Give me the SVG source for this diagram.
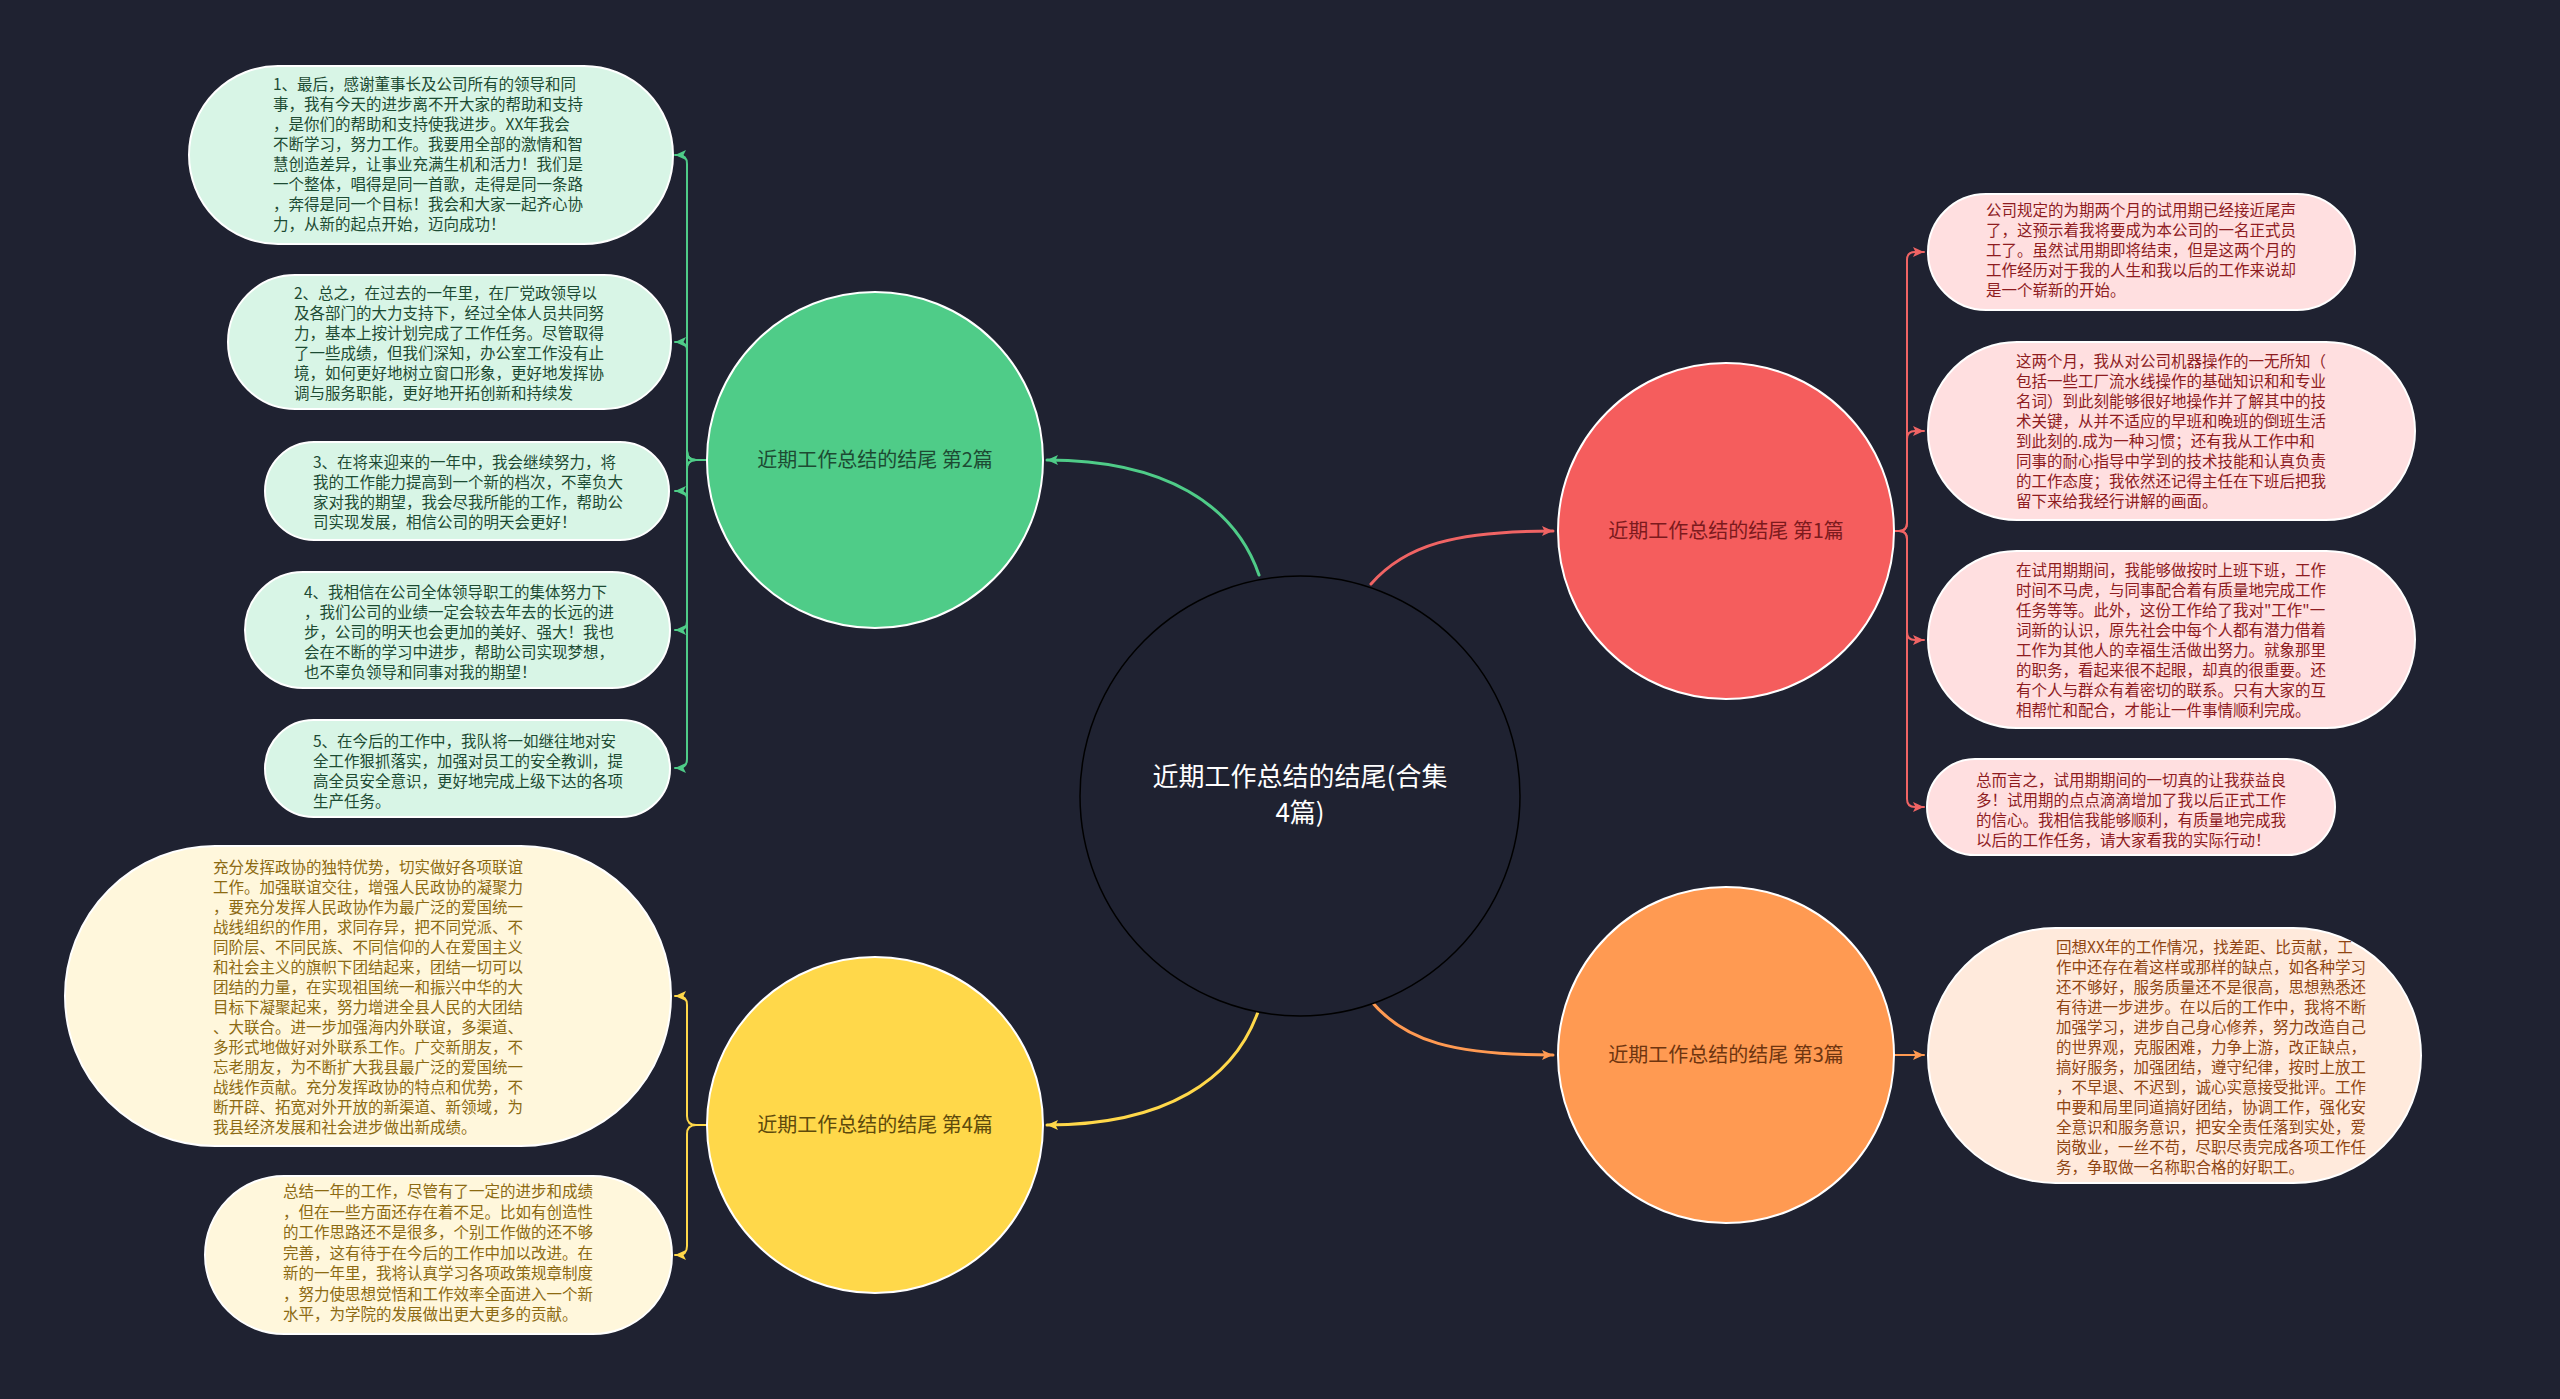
<svg xmlns="http://www.w3.org/2000/svg" width="2560" height="1399" viewBox="0 0 2560 1399">
<defs>
<style>
.bg{fill:#1f2231}
.leaf{stroke:#ffffff;stroke-width:2}
.lt{font-family:"Noto Sans CJK SC","Noto Sans",sans-serif;font-size:15.5px}
.g .leaf{fill:#d8f5e6}
.g .lt{fill:#1d4b33}
.r .leaf{fill:#ffdfe0}
.r .lt{fill:#8e1c1f}
.o .leaf{fill:#ffeadc}
.o .lt{fill:#8f4512}
.y .leaf{fill:#fff7dc}
.y .lt{fill:#8c6a12}
.bn{stroke:#ffffff;stroke-width:2}
.bt{font-family:"Noto Sans CJK SC","Noto Sans",sans-serif;font-size:20px;text-anchor:middle}
.c{fill:none;stroke-linecap:round}
.cg{stroke:#4fcc88}
.cr{stroke:#f06464}
.co{stroke:#ff9a52}
.cy{stroke:#ffd84a}
.main{stroke-width:3}
.sub{stroke-width:2}
</style>
<marker id="ag" markerUnits="userSpaceOnUse" markerWidth="14" markerHeight="14" refX="11" refY="6" orient="auto"><path d="M0,1 L11,6 L0,11 L2.5,6 z" fill="#4fcc88"/></marker>
<marker id="ar" markerUnits="userSpaceOnUse" markerWidth="14" markerHeight="14" refX="11" refY="6" orient="auto"><path d="M0,1 L11,6 L0,11 L2.5,6 z" fill="#f06464"/></marker>
<marker id="ao" markerUnits="userSpaceOnUse" markerWidth="14" markerHeight="14" refX="11" refY="6" orient="auto"><path d="M0,1 L11,6 L0,11 L2.5,6 z" fill="#ff9a52"/></marker>
<marker id="ay" markerUnits="userSpaceOnUse" markerWidth="14" markerHeight="14" refX="11" refY="6" orient="auto"><path d="M0,1 L11,6 L0,11 L2.5,6 z" fill="#ffd84a"/></marker>
</defs>
<rect class="bg" x="0" y="0" width="2560" height="1399"/>

<g id="connectors">
<path class="c cg main" d="M1259,575 C1235,505 1165,460 1047,460" marker-end="url(#ag)"/>
<path class="c cr main" d="M1371,584 C1405,545 1455,531 1553,531" marker-end="url(#ar)"/>
<path class="c co main" d="M1371,1001 C1405,1042 1455,1055 1553,1055" marker-end="url(#ao)"/>
<path class="c cy main" d="M1259,1009 C1235,1080 1165,1125 1047,1125" marker-end="url(#ay)"/>

<path class="c cg sub" d="M707,460 H696 Q687,460 687,451 V164 Q687,155 678,155 H675" marker-end="url(#ag)"/>
<path class="c cg sub" d="M707,460 H696 Q687,460 687,451 V351 Q687,342 678,342 H675" marker-end="url(#ag)"/>
<path class="c cg sub" d="M707,460 H696 Q687,460 687,451 V500 Q687,491 678,491 H675" marker-end="url(#ag)"/>
<path class="c cg sub" d="M707,460 H696 Q687,460 687,469 V621 Q687,630 678,630 H675" marker-end="url(#ag)"/>
<path class="c cg sub" d="M707,460 H696 Q687,460 687,469 V759 Q687,768 678,768 H675" marker-end="url(#ag)"/>

<path class="c cy sub" d="M707,1125 H696 Q687,1125 687,1116 V1005 Q687,996 678,996 H675" marker-end="url(#ay)"/>
<path class="c cy sub" d="M707,1125 H696 Q687,1125 687,1134 V1246 Q687,1255 678,1255 H675" marker-end="url(#ay)"/>

<path class="c cr sub" d="M1894,531 H1899 Q1907,531 1907,523 V260 Q1907,252 1915,252 H1924" marker-end="url(#ar)"/>
<path class="c cr sub" d="M1894,531 H1899 Q1907,531 1907,523 V439 Q1907,431 1915,431 H1924" marker-end="url(#ar)"/>
<path class="c cr sub" d="M1894,531 H1899 Q1907,531 1907,539 V632 Q1907,640 1915,640 H1924" marker-end="url(#ar)"/>
<path class="c cr sub" d="M1894,531 H1899 Q1907,531 1907,539 V799 Q1907,807 1915,807 H1924" marker-end="url(#ar)"/>

<path class="c co sub" d="M1894,1055 H1924" marker-end="url(#ao)"/>
</g>

<g id="center">
<circle cx="1300" cy="796" r="220" fill="#1f2231" stroke="#000000" stroke-width="1.5"/>
<text font-family="'Noto Sans CJK SC','Noto Sans',sans-serif" font-size="26" fill="#ffffff" text-anchor="middle"><tspan x="1300" y="786">近期工作总结的结尾(合集</tspan><tspan x="1300" y="822">4篇)</tspan></text>
</g>

<g id="branch2" class="g">
<circle class="bn" cx="875" cy="460" r="168" fill="#4fcc88"/>
<text class="bt" x="875" y="467" fill="#1d4b33">近期工作总结的结尾 第2篇</text>
</g>
<g id="branch1" class="r">
<circle class="bn" cx="1726" cy="531" r="168" fill="#f55d5d"/>
<text class="bt" x="1726" y="538" fill="#7c1a1d">近期工作总结的结尾 第1篇</text>
</g>
<g id="branch3" class="o">
<circle class="bn" cx="1726" cy="1055" r="168" fill="#ff9a52"/>
<text class="bt" x="1726" y="1062" fill="#6e3510">近期工作总结的结尾 第3篇</text>
</g>
<g id="branch4" class="y">
<circle class="bn" cx="875" cy="1125" r="168" fill="#ffd84a"/>
<text class="bt" x="875" y="1132" fill="#5e4a0c">近期工作总结的结尾 第4篇</text>
</g>

<g id="leaf2-1" class="g">
<rect class="leaf" x="189" y="66" width="484" height="178" rx="89"/>
<text class="lt"><tspan x="273" y="90">1、最后，感谢董事长及公司所有的领导和同</tspan><tspan x="273" dy="20">事，我有今天的进步离不开大家的帮助和支持</tspan><tspan x="273" dy="20">，是你们的帮助和支持使我进步。XX年我会</tspan><tspan x="273" dy="20">不断学习，努力工作。我要用全部的激情和智</tspan><tspan x="273" dy="20">慧创造差异，让事业充满生机和活力！我们是</tspan><tspan x="273" dy="20">一个整体，唱得是同一首歌，走得是同一条路</tspan><tspan x="273" dy="20">，奔得是同一个目标！我会和大家一起齐心协</tspan><tspan x="273" dy="20">力，从新的起点开始，迈向成功！</tspan></text>
</g>
<g id="leaf2-2" class="g">
<rect class="leaf" x="228" y="275" width="443" height="134" rx="67"/>
<text class="lt"><tspan x="294" y="299">2、总之，在过去的一年里，在厂党政领导以</tspan><tspan x="294" dy="20">及各部门的大力支持下，经过全体人员共同努</tspan><tspan x="294" dy="20">力，基本上按计划完成了工作任务。尽管取得</tspan><tspan x="294" dy="20">了一些成绩，但我们深知，办公室工作没有止</tspan><tspan x="294" dy="20">境，如何更好地树立窗口形象，更好地发挥协</tspan><tspan x="294" dy="20">调与服务职能，更好地开拓创新和持续发</tspan></text>
</g>
<g id="leaf2-3" class="g">
<rect class="leaf" x="265" y="442" width="404" height="98" rx="49"/>
<text class="lt"><tspan x="313" y="467.5">3、在将来迎来的一年中，我会继续努力，将</tspan><tspan x="313" dy="20">我的工作能力提高到一个新的档次，不辜负大</tspan><tspan x="313" dy="20">家对我的期望，我会尽我所能的工作，帮助公</tspan><tspan x="313" dy="20">司实现发展，相信公司的明天会更好！</tspan></text>
</g>
<g id="leaf2-4" class="g">
<rect class="leaf" x="245" y="572" width="425" height="116" rx="58"/>
<text class="lt"><tspan x="304" y="597.5">4、我相信在公司全体领导职工的集体努力下</tspan><tspan x="304" dy="20">，我们公司的业绩一定会较去年去的长远的进</tspan><tspan x="304" dy="20">步，公司的明天也会更加的美好、强大！我也</tspan><tspan x="304" dy="20">会在不断的学习中进步，帮助公司实现梦想，</tspan><tspan x="304" dy="20">也不辜负领导和同事对我的期望！</tspan></text>
</g>
<g id="leaf2-5" class="g">
<rect class="leaf" x="265" y="720" width="405" height="97" rx="48.5"/>
<text class="lt"><tspan x="313" y="746.5">5、在今后的工作中，我队将一如继往地对安</tspan><tspan x="313" dy="20">全工作狠抓落实，加强对员工的安全教训，提</tspan><tspan x="313" dy="20">高全员安全意识，更好地完成上级下达的各项</tspan><tspan x="313" dy="20">生产任务。</tspan></text>
</g>

<g id="leaf4-1" class="y">
<rect class="leaf" x="65" y="846" width="606" height="300" rx="150"/>
<text class="lt"><tspan x="213" y="872.5">充分发挥政协的独特优势，切实做好各项联谊</tspan><tspan x="213" dy="20">工作。加强联谊交往，增强人民政协的凝聚力</tspan><tspan x="213" dy="20">，要充分发挥人民政协作为最广泛的爱国统一</tspan><tspan x="213" dy="20">战线组织的作用，求同存异，把不同党派、不</tspan><tspan x="213" dy="20">同阶层、不同民族、不同信仰的人在爱国主义</tspan><tspan x="213" dy="20">和社会主义的旗帜下团结起来，团结一切可以</tspan><tspan x="213" dy="20">团结的力量，在实现祖国统一和振兴中华的大</tspan><tspan x="213" dy="20">目标下凝聚起来，努力增进全县人民的大团结</tspan><tspan x="213" dy="20">、大联合。进一步加强海内外联谊，多渠道、</tspan><tspan x="213" dy="20">多形式地做好对外联系工作。广交新朋友，不</tspan><tspan x="213" dy="20">忘老朋友，为不断扩大我县最广泛的爱国统一</tspan><tspan x="213" dy="20">战线作贡献。充分发挥政协的特点和优势，不</tspan><tspan x="213" dy="20">断开辟、拓宽对外开放的新渠道、新领域，为</tspan><tspan x="213" dy="20">我县经济发展和社会进步做出新成绩。</tspan></text>
</g>
<g id="leaf4-2" class="y">
<rect class="leaf" x="205" y="1176" width="467" height="158" rx="79"/>
<text class="lt"><tspan x="283" y="1197">总结一年的工作，尽管有了一定的进步和成绩</tspan><tspan x="283" dy="20.5">，但在一些方面还存在着不足。比如有创造性</tspan><tspan x="283" dy="20.5">的工作思路还不是很多，个别工作做的还不够</tspan><tspan x="283" dy="20.5">完善，这有待于在今后的工作中加以改进。在</tspan><tspan x="283" dy="20.5">新的一年里，我将认真学习各项政策规章制度</tspan><tspan x="283" dy="20.5">，努力使思想觉悟和工作效率全面进入一个新</tspan><tspan x="283" dy="20.5">水平，为学院的发展做出更大更多的贡献。</tspan></text>
</g>

<g id="leaf1-1" class="r">
<rect class="leaf" x="1928" y="194" width="427" height="116" rx="58"/>
<text class="lt"><tspan x="1986" y="216">公司规定的为期两个月的试用期已经接近尾声</tspan><tspan x="1986" dy="20">了，这预示着我将要成为本公司的一名正式员</tspan><tspan x="1986" dy="20">工了。虽然试用期即将结束，但是这两个月的</tspan><tspan x="1986" dy="20">工作经历对于我的人生和我以后的工作来说却</tspan><tspan x="1986" dy="20">是一个崭新的开始。</tspan></text>
</g>
<g id="leaf1-2" class="r">
<rect class="leaf" x="1928" y="342" width="487" height="178" rx="89"/>
<text class="lt"><tspan x="2016" y="367">这两个月，我从对公司机器操作的一无所知（</tspan><tspan x="2016" dy="20">包括一些工厂流水线操作的基础知识和和专业</tspan><tspan x="2016" dy="20">名词）到此刻能够很好地操作并了解其中的技</tspan><tspan x="2016" dy="20">术关键，从并不适应的早班和晚班的倒班生活</tspan><tspan x="2016" dy="20">到此刻的.成为一种习惯；还有我从工作中和</tspan><tspan x="2016" dy="20">同事的耐心指导中学到的技术技能和认真负责</tspan><tspan x="2016" dy="20">的工作态度；我依然还记得主任在下班后把我</tspan><tspan x="2016" dy="20">留下来给我经行讲解的画面。</tspan></text>
</g>
<g id="leaf1-3" class="r">
<rect class="leaf" x="1928" y="551" width="487" height="177" rx="88.5"/>
<text class="lt"><tspan x="2016" y="576">在试用期期间，我能够做按时上班下班，工作</tspan><tspan x="2016" dy="20">时间不马虎，与同事配合着有质量地完成工作</tspan><tspan x="2016" dy="20">任务等等。此外，这份工作给了我对"工作"一</tspan><tspan x="2016" dy="20">词新的认识，原先社会中每个人都有潜力借着</tspan><tspan x="2016" dy="20">工作为其他人的幸福生活做出努力。就象那里</tspan><tspan x="2016" dy="20">的职务，看起来很不起眼，却真的很重要。还</tspan><tspan x="2016" dy="20">有个人与群众有着密切的联系。只有大家的互</tspan><tspan x="2016" dy="20">相帮忙和配合，才能让一件事情顺利完成。</tspan></text>
</g>
<g id="leaf1-4" class="r">
<rect class="leaf" x="1927" y="759" width="408" height="96" rx="48"/>
<text class="lt"><tspan x="1976" y="785.5">总而言之，试用期期间的一切真的让我获益良</tspan><tspan x="1976" dy="20">多！试用期的点点滴滴增加了我以后正式工作</tspan><tspan x="1976" dy="20">的信心。我相信我能够顺利，有质量地完成我</tspan><tspan x="1976" dy="20">以后的工作任务，请大家看我的实际行动！</tspan></text>
</g>

<g id="leaf3-1" class="o">
<rect class="leaf" x="1928" y="928" width="493" height="255" rx="127.5"/>
<text class="lt"><tspan x="2056" y="953">回想XX年的工作情况，找差距、比贡献，工</tspan><tspan x="2056" dy="20">作中还存在着这样或那样的缺点，如各种学习</tspan><tspan x="2056" dy="20">还不够好，服务质量还不是很高，思想熟悉还</tspan><tspan x="2056" dy="20">有待进一步进步。在以后的工作中，我将不断</tspan><tspan x="2056" dy="20">加强学习，进步自己身心修养，努力改造自己</tspan><tspan x="2056" dy="20">的世界观，克服困难，力争上游，改正缺点，</tspan><tspan x="2056" dy="20">搞好服务，加强团结，遵守纪律，按时上放工</tspan><tspan x="2056" dy="20">，不早退、不迟到，诚心实意接受批评。工作</tspan><tspan x="2056" dy="20">中要和局里同道搞好团结，协调工作，强化安</tspan><tspan x="2056" dy="20">全意识和服务意识，把安全责任落到实处，爱</tspan><tspan x="2056" dy="20">岗敬业，一丝不苟，尽职尽责完成各项工作任</tspan><tspan x="2056" dy="20">务，争取做一名称职合格的好职工。</tspan></text>
</g>
</svg>
